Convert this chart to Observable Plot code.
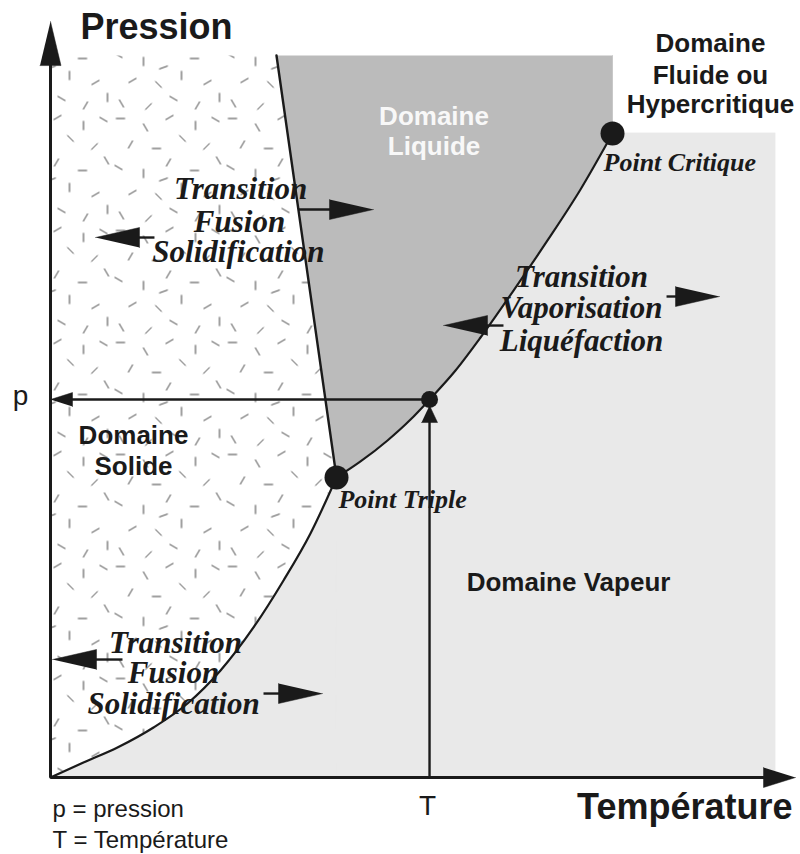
<!DOCTYPE html>
<html><head><meta charset="utf-8">
<script src="https://cdn.jsdelivr.net/npm/d3@7"></script>
<script src="https://cdn.jsdelivr.net/npm/@observablehq/plot@0.6"></script>
<style>body{margin:0;background:#fff} svg{display:block}</style>
</head><body><div id="chart"></div>
<script>
// ---------- data (arbitrary units: T and p from 0 to 100) ----------
const sublimationT = [0, 4.55, 9.24, 14.21, 18.90, 23.45, 28.00, 32.14, 35.86, 39.45];
const sublimationP = [0, 2.08, 4.16, 6.93, 10.25, 14.82, 20.78, 27.29, 33.80, 41.55];
const vaporT = [39.45, 42.76, 46.48, 49.66, 52.28, 55.86, 59.31, 63.86, 68.55, 73.10, 77.52];
const vaporP = [41.55, 43.77, 46.68, 49.58, 52.35, 56.37, 60.94, 67.45, 74.38, 81.44, 89.20];
const fusionT = [31.17, 39.45];
const fusionP = [100, 41.55];
const domainT = [0, 100];
const domainP = [0, 100];

const pointNames = ["triple", "critique", "etat"];
const pointT = [39.45, 77.52, 52.28];
const pointP = [41.55, 89.20, 52.35];

const arrowKinds = ["axisY", "axisX", "big", "big", "big", "big", "big", "big", "p", "T"];
const arrowFromT = [0, 0, 34.21, 14.34, 62.48, 84.97, 9.93, 29.38, 52.28, 52.28];
const arrowFromP = [0, 0, 78.67, 74.79, 62.60, 66.62, 16.34, 11.63, 52.35, 0];
const arrowToT   = [0, 102.76, 44.55, 6.21, 54.21, 92.28, 0.28, 37.52, 0, 52.28];
const arrowToP   = [104.7, 0, 78.67, 74.79, 62.60, 66.62, 16.34, 11.63, 52.35, 51.52];

const labelGroups = ["titleL","titleR","sans","sans","sans","sans","sans","sans","white","white",
  "serif","serif","serif","serif","serif","serif","serif","serif","serif","point","point",
  "plain","plain","note","note"];
const labelTexts = ["Pression","Température","Domaine","Solide","Domaine Vapeur","Domaine","Fluide ou","Hypercritique","Domaine","Liquide",
  "Transition","Fusion","Solidification","Transition","Vaporisation","Liquéfaction","Transition","Fusion","Solidification","Point Triple","Point Critique",
  "p","T","p = pression","T = Température"];
const labelT = [4.14, 102.34, 11.45, 11.45, 71.45, 91.03, 91.03, 91.03, 52.9, 52.9,
  26.21, 26.07, 25.93, 73.24, 73.24, 73.24, 17.24, 16.97, 16.97, 39.72, 76.28,
  -4.14, 52.0, 0.28, 0.28];
const labelP = [102.22, -5.68, 46.26, 41.83, 25.90, 100.42, 96.12, 91.97, 90.44, 86.15,
  80.06, 75.62, 71.33, 67.87, 63.71, 59.14, 17.31, 13.02, 8.73, 37.26, 84.07,
  51.66, -5.26, -5.54, -9.83];

// ---------- layout ----------
const W = 800, H = 854, ML = 50, MR = 25, MT = 55, MB = 77;
const kx = (W - ML - MR) / (domainT[1] - domainT[0]);
const ky = (H - MT - MB) / (domainP[1] - domainP[0]);
const toPx = (t, p) => [ML + t * kx, H - MB - p * ky];
const toData = (x, y) => [(x - ML) / kx, (H - MB - y) / ky];
const INK = "#1a1a1a";

const sublimation = sublimationT.map((t, i) => ({t, p: sublimationP[i]}));
const vapor = vaporT.map((t, i) => ({t, p: vaporP[i]}));
const fusion = fusionT.map((t, i) => ({t, p: fusionP[i]}));
const triple = {t: vaporT[0], p: vaporP[0]};
const critical = {t: vaporT[vaporT.length - 1], p: vaporP[vaporP.length - 1]};

const solidPoly = [
  {t: domainT[0], p: domainP[0]}, {t: domainT[0], p: domainP[1]},
  {t: fusionT[0], p: fusionP[0]}, {t: triple.t, p: triple.p}, {t: triple.t, p: domainP[0]}
];
const liquidPoly = [
  {t: fusionT[0], p: fusionP[0]}, {t: triple.t, p: triple.p},
  {t: critical.t, p: triple.p}, {t: critical.t, p: domainP[1]}
];

const headSpec = {axisY: [44, 10.5], axisX: [32, 10], big: [44, 10], p: [22, 7], T: [17, 8]};
const triangles = [], tails = [];
arrowKinds.forEach((k, i) => {
  const [L, w] = headSpec[k];
  const [x0, y0] = toPx(arrowFromT[i], arrowFromP[i]);
  const [x1, y1] = toPx(arrowToT[i], arrowToP[i]);
  const len = Math.hypot(x1 - x0, y1 - y0);
  const ux = (x1 - x0) / len, uy = (y1 - y0) / len;
  const bx = x1 - ux * L, by = y1 - uy * L;
  const nx = -uy, ny = ux;
  [[x1, y1], [bx + nx * w, by + ny * w], [bx - nx * w, by - ny * w]].forEach(([x, y]) => {
    const [t, p] = toData(x, y);
    triangles.push({id: i, t, p});
  });
  const [bt, bp] = toData(bx + ux * 2, by + uy * 2);
  tails.push({kind: k, t1: arrowFromT[i], p1: arrowFromP[i], t2: bt, p2: bp});
});

const points = pointNames.map((n, i) => ({name: n, t: pointT[i], p: pointP[i]}));
const labels = labelTexts.map((s, i) => ({group: labelGroups[i], text: s, t: labelT[i], p: labelP[i]}));
const lab = g => labels.filter(d => d.group === g);

const SANS = "'Liberation Sans', Arial, Helvetica, sans-serif";
const SERIF = "'Liberation Serif', 'Times New Roman', serif";

const chart = Plot.plot({
  width: W, height: H,
  marginLeft: ML, marginRight: MR, marginTop: MT, marginBottom: MB,
  x: {domain: domainT, axis: null},
  y: {domain: domainP, axis: null},
  style: {background: "#fff", overflow: "visible"},
  marks: [
    // regions
    Plot.line(solidPoly, {x: "t", y: "p", fill: "url(#solidDash)", stroke: "none"}),
    Plot.line(liquidPoly, {x: "t", y: "p", fill: "#bbbbbb", stroke: "#bbbbbb", strokeWidth: 0.6}),
    Plot.areaY(sublimation, {x: "t", y: "p", curve: "monotone-x", fill: "#e9e9e9", stroke: "#e9e9e9", strokeWidth: 0.8}),
    Plot.areaY(vapor, {x: "t", y: "p", curve: "monotone-x", fill: "#e9e9e9", stroke: "#e9e9e9", strokeWidth: 0.8}),
    Plot.rect([critical], {x1: "t", x2: () => domainT[1], y1: () => domainP[0], y2: "p", fill: "#e9e9e9", stroke: "#e9e9e9", strokeWidth: 0.8}),
    // phase boundaries
    Plot.line(sublimation, {x: "t", y: "p", curve: "monotone-x", stroke: INK, strokeWidth: 2.2}),
    Plot.line(vapor, {x: "t", y: "p", curve: "monotone-x", stroke: INK, strokeWidth: 2.2}),
    Plot.line(fusion, {x: "t", y: "p", stroke: INK, strokeWidth: 2.4}),
    // arrows
    Plot.link(tails.filter(d => d.kind.startsWith("axis")), {x1: "t1", y1: "p1", x2: "t2", y2: "p2", stroke: INK, strokeWidth: 3}),
    Plot.link(tails.filter(d => !d.kind.startsWith("axis")), {x1: "t1", y1: "p1", x2: "t2", y2: "p2", stroke: INK, strokeWidth: 2.4}),
    Plot.line(triangles, {x: "t", y: "p", z: "id", fill: INK, stroke: INK, strokeWidth: 0.5}),
    // points
    Plot.dot(points.filter(d => d.name !== "etat"), {x: "t", y: "p", r: 12, fill: INK, stroke: "none"}),
    Plot.dot(points.filter(d => d.name === "etat"), {x: "t", y: "p", r: 8.5, fill: INK, stroke: "none"}),
    // labels
    Plot.text(lab("titleL"), {x: "t", y: "p", text: "text", lineAnchor: "bottom", textAnchor: "start",
      fontFamily: SANS, fontWeight: "bold", fontSize: 36, fill: INK}),
    Plot.text(lab("titleR"), {x: "t", y: "p", text: "text", lineAnchor: "bottom", textAnchor: "end",
      fontFamily: SANS, fontWeight: "bold", fontSize: 36, fill: INK}),
    Plot.text(lab("sans"), {x: "t", y: "p", text: "text", lineAnchor: "bottom", textAnchor: "middle",
      fontFamily: SANS, fontWeight: "bold", fontSize: 26, fill: INK}),
    Plot.text(lab("white"), {x: "t", y: "p", text: "text", lineAnchor: "bottom", textAnchor: "middle",
      fontFamily: SANS, fontWeight: "bold", fontSize: 26, fill: "#f8f8f8"}),
    Plot.text(lab("serif"), {x: "t", y: "p", text: "text", lineAnchor: "bottom", textAnchor: "middle",
      fontFamily: SERIF, fontWeight: "bold", fontStyle: "italic", fontSize: 31, fill: INK}),
    Plot.text(lab("point"), {x: "t", y: "p", text: "text", lineAnchor: "bottom", textAnchor: "start",
      fontFamily: SERIF, fontWeight: "bold", fontStyle: "italic", fontSize: 26, fill: INK}),
    Plot.text(lab("plain"), {x: "t", y: "p", text: "text", lineAnchor: "bottom", textAnchor: "middle",
      fontFamily: SANS, fontSize: 28, fill: INK}),
    Plot.text(lab("note"), {x: "t", y: "p", text: "text", lineAnchor: "bottom", textAnchor: "start",
      fontFamily: SANS, fontSize: 24, fill: INK})
  ]
});

// texture of the solid domain (style only)
const svg = d3.select(chart.tagName.toLowerCase() === "svg" ? chart : chart.querySelector("svg"));
const defs = svg.insert("defs", ":first-child");
const TILE = 112;
const pat = defs.append("pattern").attr("id", "solidDash").attr("patternUnits", "userSpaceOnUse")
  .attr("width", TILE).attr("height", TILE);
pat.append("rect").attr("width", TILE).attr("height", TILE).attr("fill", "#fff");
const DASHES = [[8,6,0],[33,15,60],[57,5,150],[83,13,90],[103,7,30],
  [18,32,120],[44,36,0],[70,26,45],[94,34,135],
  [6,55,30],[31,61,90],[56,50,120],[82,58,0],[106,48,60],
  [20,80,150],[46,84,45],[69,75,90],[95,82,150],
  [9,103,60],[36,106,135],[61,98,30],[85,105,120],[107,97,90],[51,67,160]];
DASHES.forEach(([cx, cy, a]) => {
  const r = a * Math.PI / 180, h = 4.6;
  pat.append("line")
    .attr("x1", cx - Math.cos(r) * h).attr("y1", cy - Math.sin(r) * h)
    .attr("x2", cx + Math.cos(r) * h).attr("y2", cy + Math.sin(r) * h)
    .attr("stroke", "#2a2a2a").attr("stroke-width", 0.9);
});

document.getElementById("chart").appendChild(chart);
</script>
</body></html>
